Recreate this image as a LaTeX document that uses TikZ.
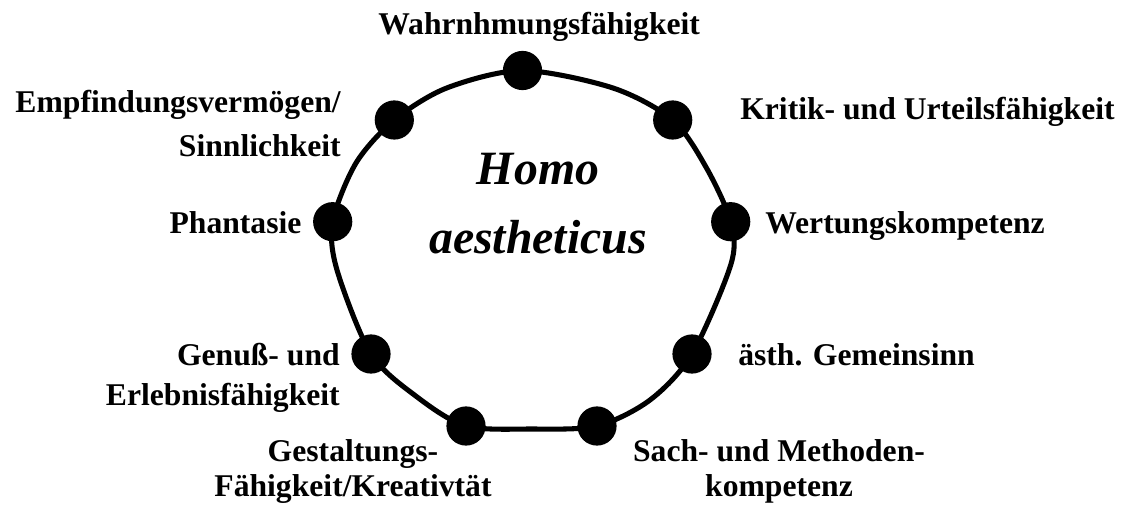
\documentclass[tikz,border=0pt]{standalone}
\usepackage{fontspec}
\setmainfont{Liberation Serif}
\usetikzlibrary{backgrounds}
\tikzset{
  dot/.style={circle, fill=black, inner sep=0pt, minimum size=0.98cm},
  ring/.style={draw=black, line width=3.6pt},
  lbl/.style={font=\bfseries\fontsize{22.5}{25}\selectfont, inner sep=0pt},
  title/.style={font=\bfseries\itshape\fontsize{34}{49}\selectfont, align=center, inner sep=0pt},
}
\begin{document}
\begin{tikzpicture}[x=0.025cm, y=-0.025cm]
  \useasboundingbox (0,0) rectangle (1124,505);
  % points on the ring
  \node[dot] (wahr) at (522.5,70.5) {};
  \node[dot] (krit) at (672.7,120) {};
  \node[dot] (wert) at (730.7,221.7) {};
  \node[dot] (gem) at (692,354) {};
  \node[dot] (sach) at (597,426) {};
  \node[dot] (gest) at (466,426) {};
  \node[dot] (genuss) at (371,354) {};
  \node[dot] (phan) at (332.7,221.7) {};
  \node[dot] (empf) at (394.3,120) {};
  % extra points for the curve
  \coordinate (c1) at (613,88);
  \coordinate (c2) at (706.5,168);
  \coordinate (c3) at (731,264);
  \coordinate (c4) at (650,400);
  \coordinate (c5) at (531,429);
  \coordinate (c6) at (416.7,396.7);
  \coordinate (c7) at (337,270);
  \coordinate (c8) at (356,163);
  \coordinate (c9) at (446.7,88);
  \begin{scope}[on background layer]
    \draw[ring] plot[smooth cycle] coordinates {(wahr) (c1) (krit) (c2) (wert) (c3) (gem) (c4) (sach) (c5) (gest) (c6) (genuss) (c7) (phan) (c8) (empf) (c9)};
  \end{scope}
  % labels
  \node[title, anchor=base] (homo) at (538,253) {Homo\\aestheticus};
  \node[lbl, anchor=base west] (l-wahr) at (378,35) {Wahrnhmungsfähigkeit};
  \node[lbl, anchor=base west] (l-krit) at (740,120) {Kritik- und Urteilsfähigkeit};
  \node[lbl, anchor=base west] (l-wert) at (765,233.3) {Wertungskompetenz};
  \node[lbl, anchor=base west] (l-gem) at (738,365) {ästh. Gemeinsinn};
  \node[lbl, anchor=base, align=center] (l-sach) at (779,496.7) {Sach- und Methoden-\\kompetenz};
  \node[lbl, anchor=base, align=center] (l-gest) at (353,496.7) {Gestaltungs-\\Fähigkeit/Kreativtät};
  \node[lbl, anchor=base east, align=right] (l-genuss) at (340,405) {Genuß- und\\[2.8pt]Erlebnisfähigkeit};
  \node[lbl, anchor=base east] (l-phan) at (301.7,233) {Phantasie};
  \node[lbl, anchor=base east, align=right] (l-empf) at (341,157) {Empfindungsvermögen/\\[7pt]Sinnlichkeit};
\end{tikzpicture}
\end{document}
